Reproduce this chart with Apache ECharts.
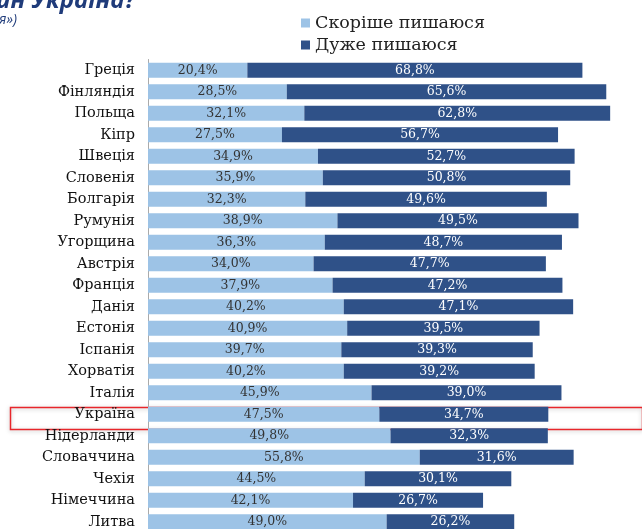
<!DOCTYPE html>
<html>
<head>
<meta charset="utf-8">
<script src="https://cdn.jsdelivr.net/npm/echarts@6/dist/echarts.min.js"></script>
<style>
    html, body { margin: 0; padding: 0; background: #fff; }
    #chart { width: 642px; height: 529px; }
</style>
</head>
<body>
<div id="chart"></div>
<script>
    const countries = ['Греція', 'Фінляндія', 'Польща', 'Кіпр', 'Швеція', 'Словенія', 'Болгарія',
        'Румунія', 'Угорщина', 'Австрія', 'Франція', 'Данія', 'Естонія', 'Іспанія', 'Хорватія',
        'Італія', 'Україна', 'Нідерланди', 'Словаччина', 'Чехія', 'Німеччина', 'Литва']
    const ratherProud = [20.4, 28.5, 32.1, 27.5, 34.9, 35.9, 32.3, 38.9, 36.3, 34.0, 37.9, 40.2,
        40.9, 39.7, 40.2, 45.9, 47.5, 49.8, 55.8, 44.5, 42.1, 49.0]
    const veryProud = [68.8, 65.6, 62.8, 56.7, 52.7, 50.8, 49.6, 49.5, 48.7, 47.7, 47.2, 47.1,
        39.5, 39.3, 39.2, 39.0, 34.7, 32.3, 31.6, 30.1, 26.7, 26.2]
    const seriesNames = ['Скоріше пишаюся', 'Дуже пишаюся']

    const serif = 'DejaVu Serif'
    const fmt = p => p.value.toFixed(1).replace('.', ',') + '%'

    const chart = echarts.init(document.getElementById('chart'))
    chart.setOption({
        animation: false,
        legend: {
            orient: 'vertical',
            left: 296,
            top: 9,
            itemWidth: 9,
            itemHeight: 9,
            itemGap: 4,
            icon: 'rect',
            textStyle: {fontFamily: serif, fontSize: 17.5, color: '#222'},
            data: seriesNames
        },
        grid: {left: 148, width: 487, top: 59.5, height: 473, outerBoundsMode: 'none', containLabel: false},
        xAxis: {type: 'value', min: 0, max: 100, show: false},
        yAxis: {
            type: 'category',
            inverse: true,
            data: countries,
            offset: 2,
            axisLine: {lineStyle: {color: '#aaa'}},
            axisTick: {length: 4, lineStyle: {color: '#aaa'}},
            axisLabel: {fontFamily: serif, fontSize: 14.5, color: '#111', margin: 11}
        },
        series: [
            {
                name: seriesNames[0],
                type: 'bar',
                stack: 'all',
                barCategoryGap: '30%',
                itemStyle: {color: '#9dc3e6'},
                label: {show: true, position: 'inside', formatter: fmt,
                    fontFamily: serif, fontSize: 12.5, color: '#333'},
                data: ratherProud
            },
            {
                name: seriesNames[1],
                type: 'bar',
                stack: 'all',
                itemStyle: {color: '#2f5188'},
                label: {show: true, position: 'inside', formatter: fmt,
                    fontFamily: serif, fontSize: 12.5, color: '#fff'},
                data: veryProud
            }
        ],
        graphic: [
            {
                type: 'text', left: -4, top: -11,
                style: {text: 'ин Україна?', font: 'italic bold 24px "Open Sans"', fill: '#1f3b7a'}
            },
            {
                type: 'text', left: -1, top: 13,
                style: {text: 'я»)', font: 'italic 14px "Open Sans"', fill: '#1f3b7a'}
            },
            {
                type: 'rect', left: 8, top: 405,
                shape: {width: 632, height: 22},
                style: {fill: 'none', stroke: '#e8262b', lineWidth: 1.5,
                    shadowBlur: 4, shadowColor: 'rgba(0,0,0,0.25)', shadowOffsetY: 1}
            }
        ]
    })
</script>
</body>
</html>
